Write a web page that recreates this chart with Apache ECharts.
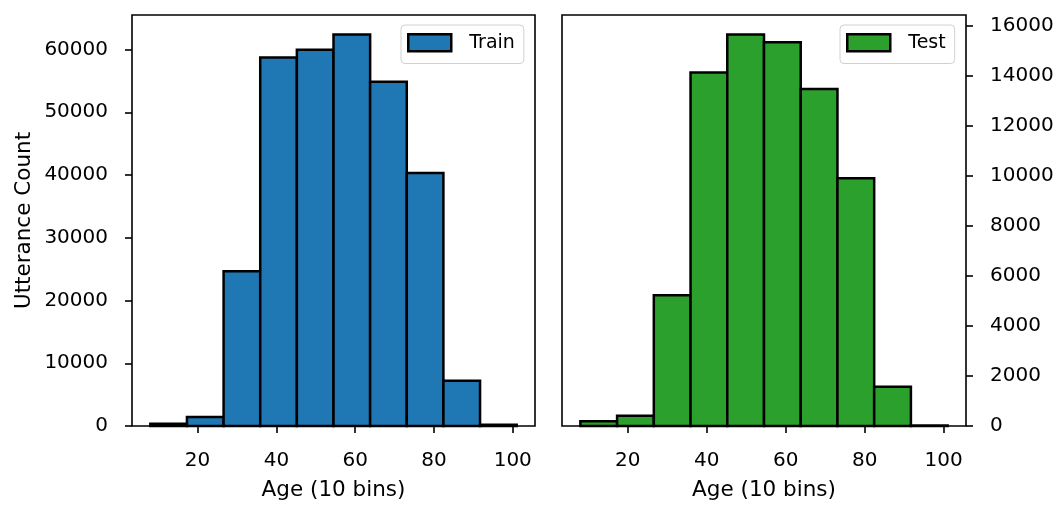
<!DOCTYPE html>
<html>
<head>
<meta charset="utf-8">
<script src="https://cdn.jsdelivr.net/npm/echarts@6/dist/echarts.min.js"></script>
<style>
  html, body { margin: 0; padding: 0; background: #fff; }
  #chart { width: 1058px; height: 506px; }
</style>
</head>
<body>
<div id="chart"></div>
<script>
// histogram: 10 age bins, edges from 8 to 101
const binStart = 8
const binWidth = 9.3
const trainCounts = [365, 1430, 24660, 58730, 59950, 62380, 54880, 40300, 7230, 200]
const testCounts = [186, 408, 5216, 14111, 15630, 15327, 13453, 9889, 1572, 20]
const ageTicks = [20, 40, 60, 80, 100]
const trainTicks = [0, 10000, 20000, 30000, 40000, 50000, 60000]
const testTicks = [0, 2000, 4000, 6000, 8000, 10000, 12000, 14000, 16000]

const FONT = 'DejaVu Sans'

const toBins = counts => counts.map((c, i) => [binStart + i * binWidth, binStart + (i + 1) * binWidth, c])

const renderBar = (params, api) => {
  const p0 = api.coord([api.value(0), api.value(2)])
  const p1 = api.coord([api.value(1), 0])
  return {
    type: 'rect',
    shape: { x: p0[0], y: p0[1], width: p1[0] - p0[0], height: p1[1] - p0[1] },
    style: { fill: api.visual('color'), stroke: '#000', lineWidth: 2.5 },
  }
}

const xAxisBase = gridIndex => ({
  type: 'value',
  gridIndex,
  min: binStart - binWidth * 0.5,
  max: binStart + binWidth * 10.5,
  name: 'Age (10 bins)',
  nameLocation: 'middle',
  nameGap: 53,
  nameTextStyle: { fontFamily: FONT, fontSize: 21.5, color: '#000' },
  axisLine: { show: false },
  axisTick: { show: true, length: 7, customValues: ageTicks, lineStyle: { color: '#000', width: 1.6 } },
  axisLabel: { customValues: ageTicks, margin: 25, fontFamily: FONT, fontSize: 20, color: '#000', formatter: v => String(v) },
  splitLine: { show: false },
})

const yAxisBase = (gridIndex, max, ticks, position) => ({
  type: 'value',
  gridIndex,
  position,
  min: 0,
  max,
  axisLine: { show: false },
  axisTick: { show: true, length: 7, customValues: ticks, lineStyle: { color: '#000', width: 1.6 } },
  axisLabel: { customValues: ticks, margin: 24, fontFamily: FONT, fontSize: 20, color: '#000', formatter: v => String(v) },
  splitLine: { show: false },
})

const legendBase = (name, left, color) => ({
  left,
  top: 25,
  orient: 'horizontal',
  padding: [8, 9, 11, 6],
  itemWidth: 43,
  itemHeight: 17,
  backgroundColor: '#fff',
  borderColor: '#d0d0d0',
  borderWidth: 1,
  borderRadius: 4,
  selectedMode: false,
  textStyle: { fontFamily: FONT, fontSize: 19, color: '#000', padding: [2, 0, 0, 13] },
  data: [{ name, icon: 'rect', itemStyle: { color, borderColor: '#000', borderWidth: 2.5 } }],
})

const chart = echarts.init(document.getElementById('chart'), null, { renderer: 'canvas' })

const yTrain = yAxisBase(0, Math.max(...trainCounts) * 1.05, trainTicks, 'left')
yTrain.name = 'Utterance Count'
yTrain.nameLocation = 'middle'
yTrain.nameGap = 97
yTrain.nameTextStyle = { fontFamily: FONT, fontSize: 21.5, color: '#000' }

chart.setOption({
  animation: false,
  backgroundColor: '#fff',
  grid: [
    { left: 132, top: 15, width: 403, height: 414, show: true, borderColor: '#000', borderWidth: 1.6, backgroundColor: 'transparent' },
    { left: 562, top: 15, width: 404, height: 414, show: true, borderColor: '#000', borderWidth: 1.6, backgroundColor: 'transparent' },
  ],
  legend: [
    legendBase('Train', 401, '#1f77b4'),
    legendBase('Test', 840, '#2ca02c'),
  ],
  xAxis: [xAxisBase(0), xAxisBase(1)],
  yAxis: [
    yTrain,
    yAxisBase(1, Math.max(...testCounts) * 1.05, testTicks, 'right'),
  ],
  series: [
    {
      name: 'Train',
      type: 'custom',
      xAxisIndex: 0,
      yAxisIndex: 0,
      itemStyle: { color: '#1f77b4' },
      renderItem: renderBar,
      encode: { x: [0, 1], y: 2 },
      data: toBins(trainCounts),
    },
    {
      name: 'Test',
      type: 'custom',
      xAxisIndex: 1,
      yAxisIndex: 1,
      itemStyle: { color: '#2ca02c' },
      renderItem: renderBar,
      encode: { x: [0, 1], y: 2 },
      data: toBins(testCounts),
    },
  ],
})

window.onresize = chart.resize
</script>
</body>
</html>
